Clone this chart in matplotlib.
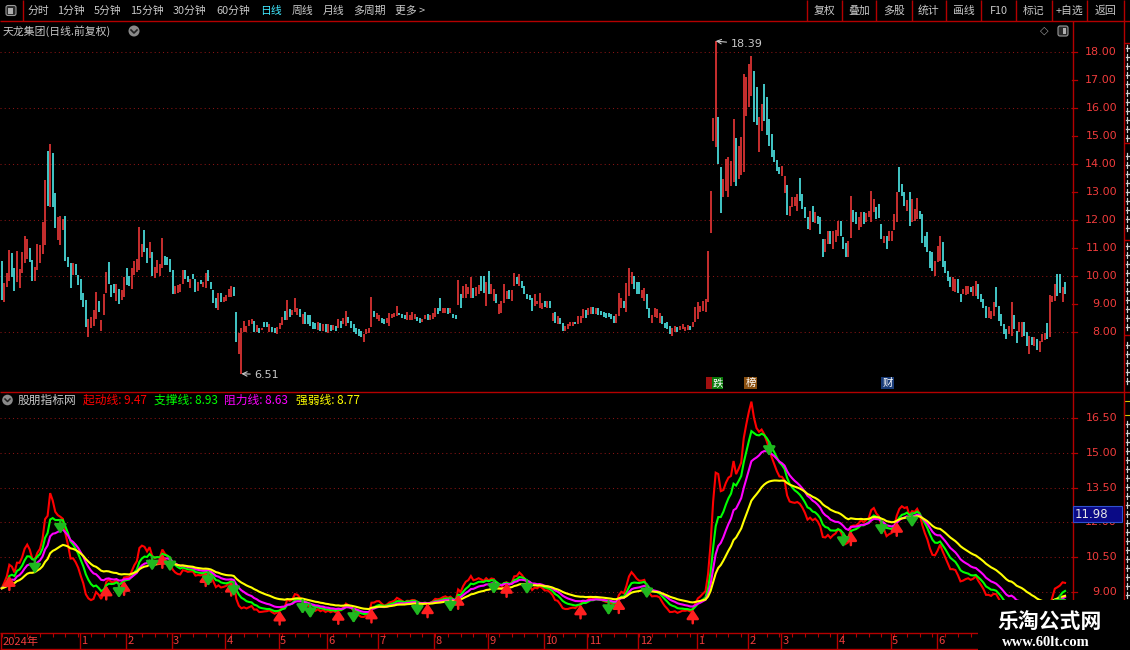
import numpy as np
import pandas as pd
import matplotlib
matplotlib.use("Agg")
import matplotlib.pyplot as plt
from matplotlib.patches import Rectangle, Circle, FancyBboxPatch

plt.rcParams['font.family'] = ['Noto Sans CJK SC', 'DejaVu Sans']

# ---------------- data ----------------
opens = [
    10.53, 9.08, 9.62, 9.83, 10.83, 10.29, 9.79, 9.58, 10.12, 10.45,
    10.59, 11.01, 10.57, 9.83, 10.21, 10.47, 10.78, 11.10, 14.46, 12.45,
    14.38, 12.95, 11.28, 11.09, 11.64, 12.14, 10.69, 10.47, 10.03, 10.42,
    10.02, 9.88, 9.38, 9.16, 7.83, 8.16, 8.22, 8.48, 9.12, 8.03,
    8.60, 9.38, 10.50, 9.67, 9.73, 9.10, 9.54, 9.14, 9.26, 10.29,
    10.01, 9.54, 10.03, 10.15, 10.21, 10.69, 11.64, 11.01, 10.63, 10.85,
    9.94, 10.12, 10.01, 10.27, 10.71, 10.69, 10.60, 10.21, 9.34, 9.39,
    9.44, 9.73, 10.21, 10.01, 9.58, 10.07, 9.91, 9.47, 9.85, 9.62,
    9.58, 10.21, 9.79, 9.50, 9.20, 8.80, 9.38, 9.06, 9.10, 9.26,
    9.26, 9.59, 8.72, 7.21, 6.51, 8.01, 8.01, 8.22, 8.28, 8.39,
    8.01, 8.16, 8.06, 8.34, 8.34, 8.01, 8.19, 8.15, 7.92, 8.10,
    8.25, 8.75, 8.42, 8.82, 8.60, 8.72, 8.60, 8.82,
    8.27, 8.73, 8.61, 8.61, 8.36, 8.33, 8.06, 8.33, 8.04, 8.30,
    7.98, 8.25, 8.06, 8.21, 8.13, 8.39, 8.27, 8.21, 8.54, 8.39,
    8.27, 8.15, 8.10, 8.04, 7.64, 7.92, 7.98, 8.18, 8.75, 8.45,
    8.39, 8.49, 8.45, 8.33, 8.21, 8.51, 8.54, 8.57, 8.69, 8.66,
    8.61, 8.44, 8.43, 8.44, 8.45, 8.54, 8.51, 8.36, 8.45, 8.66,
    8.43, 8.45, 8.54, 8.87, 9.23, 8.69, 8.69, 8.85, 8.69, 8.66,
    8.61, 8.97, 9.35, 9.23, 9.23, 9.35, 9.23, 9.57, 9.29, 9.35,
    10.01, 10.01, 8.93, 10.19, 9.35, 9.11, 9.35, 8.63, 8.67, 9.05,
    9.17, 9.50, 9.09, 9.65, 9.95, 9.65, 9.83, 9.65, 9.35, 9.33,
    9.21, 8.93, 8.99, 8.87, 8.81, 9.11, 8.87, 9.09, 8.39, 8.72,
    8.27, 8.51, 8.33, 8.04, 8.10, 8.21, 8.21, 8.36, 8.30, 8.33,
    8.51, 8.78, 8.61, 8.63, 8.90, 8.63, 8.85, 8.75, 8.73, 8.69,
    8.69, 8.63, 8.57, 8.33, 8.57, 8.87, 9.11, 8.72, 9.27, 9.71,
    10.01, 9.77, 9.80, 9.23, 9.11, 9.35, 8.87, 8.31, 8.54, 8.51,
    8.33, 8.57, 8.33, 8.36, 8.21, 7.86, 8.00, 8.18, 8.06, 8.10,
    8.04, 8.06,
    8.20, 8.17, 8.35, 8.46, 8.73, 8.76, 8.73, 9.06, 11.52, 14.83,
    14.62, 15.69, 13.90, 12.81, 13.05, 12.81, 13.23, 13.35, 14.93, 13.46,
    13.62, 13.70, 15.73, 16.05, 16.44, 17.31, 16.74, 14.42, 15.19, 16.86,
    16.38, 15.61, 15.07, 14.50, 14.14, 13.90, 13.56, 12.95, 13.26, 12.15,
    12.45, 12.51, 12.31, 13.49, 12.93, 12.45, 12.10, 11.64, 12.49, 11.88,
    12.15, 12.10, 11.32, 10.85, 11.14, 11.62, 10.96, 11.20, 11.44, 11.98,
    11.38, 11.17, 10.67, 11.35, 12.37, 12.27, 11.64, 11.74, 12.27, 11.92,
    12.10, 11.92, 12.27, 12.45, 12.57, 11.86, 11.17, 11.44, 11.24, 11.24,
    11.64, 11.92, 13.90, 13.29, 12.99, 12.33, 13.01, 11.92, 11.98, 12.04,
    12.33, 12.21, 11.42, 11.58, 10.90, 10.85, 10.01, 10.49, 10.55, 11.20,
    10.55, 10.17, 9.98, 9.48, 9.42, 9.89, 9.36, 9.36, 9.32, 9.36,
    9.60, 9.27, 9.27, 9.71, 9.36, 9.18, 8.94, 8.50, 8.46, 8.58,
    9.59, 8.94, 8.64, 8.29, 8.11, 7.93, 7.87, 8.62, 8.05, 7.99,
    7.83, 8.37, 7.99, 7.21, 7.83, 7.51, 7.75, 7.27, 7.63, 7.71,
    8.33, 7.81, 9.06, 9.10, 10.07, 10.07, 9.06, 9.77,
]
closes = [
    9.16, 9.76, 10.09, 10.92, 9.97, 9.46, 10.90, 10.25, 10.85, 11.42,
    11.31, 10.51, 9.83, 10.33, 11.15, 11.10, 11.92, 13.42, 12.50, 14.73,
    12.47, 11.73, 12.09, 12.14, 12.02, 10.54, 10.31, 9.56, 10.47, 10.03,
    9.69, 9.16, 8.90, 8.19, 8.46, 8.54, 8.78, 9.44, 8.72, 8.42,
    9.35, 10.13, 9.71, 9.26, 9.41, 9.70, 9.00, 9.50, 9.97, 9.67,
    9.65, 10.29, 10.53, 10.59, 11.75, 11.15, 10.87, 10.45, 11.21, 10.01,
    10.31, 10.58, 10.44, 11.35, 10.39, 10.39, 10.15, 9.35, 9.66, 9.67,
    9.73, 10.21, 9.89, 9.79, 9.91, 9.88, 9.44, 9.77, 9.70, 9.79,
    10.09, 9.83, 9.54, 9.04, 8.84, 9.40, 9.06, 9.26, 9.32, 9.53,
    9.65, 9.29, 7.65, 7.97, 8.13, 8.40, 8.22, 8.42, 8.48, 8.01,
    8.25, 7.97, 8.16, 8.19, 8.19, 8.27, 8.01, 7.97, 8.19, 8.31,
    8.52, 8.42, 9.14, 8.54, 8.80, 9.23, 8.84, 8.54,
    8.63, 8.27, 8.27, 8.21, 8.12, 8.10, 8.36, 8.04, 8.30, 8.01,
    8.27, 8.04, 8.25, 8.04, 8.45, 8.15, 8.51, 8.75, 8.33, 8.15,
    8.01, 7.94, 7.86, 7.82, 7.92, 8.10, 8.15, 9.26, 8.55, 8.69,
    8.61, 8.33, 8.30, 8.51, 8.69, 8.63, 8.69, 8.93, 8.60, 8.51,
    8.45, 8.73, 8.60, 8.72, 8.63, 8.39, 8.33, 8.48, 8.61, 8.42,
    8.60, 8.69, 8.87, 8.66, 8.75, 8.87, 8.87, 8.66, 8.87, 8.51,
    8.48, 9.87, 8.85, 9.65, 9.71, 9.62, 9.95, 9.23, 9.59, 9.68,
    9.47, 9.38, 9.77, 9.35, 9.71, 9.53, 9.05, 8.99, 9.11, 9.71,
    9.47, 9.17, 9.50, 10.10, 9.71, 10.07, 9.57, 9.35, 9.17, 9.14,
    8.75, 9.35, 9.11, 9.39, 9.05, 8.90, 9.09, 8.87, 8.69, 8.33,
    8.57, 8.27, 8.04, 8.21, 8.27, 8.36, 8.36, 8.27, 8.57, 8.57,
    8.81, 8.51, 8.85, 8.90, 8.66, 8.87, 8.61, 8.60, 8.54, 8.51,
    8.54, 8.45, 8.33, 8.63, 9.38, 9.23, 8.85, 9.75, 10.28, 10.13,
    9.53, 9.35, 9.35, 9.50, 9.57, 8.81, 8.51, 8.61, 8.84, 8.81,
    8.69, 8.27, 8.15, 8.10, 7.92, 8.15, 8.21, 8.00, 8.21, 8.27,
    8.18, 8.25,
    8.08, 8.37, 8.88, 9.06, 8.94, 9.12, 9.18, 10.88, 13.05, 15.64,
    16.00, 14.00, 12.24, 13.46, 14.18, 14.26, 14.12, 15.61, 13.23, 14.66,
    14.98, 17.21, 17.12, 17.57, 17.87, 15.49, 15.39, 15.67, 16.14, 15.52,
    15.05, 14.66, 14.24, 14.06, 13.76, 13.64, 13.94, 13.58, 12.19, 12.51,
    12.81, 12.81, 12.93, 12.69, 12.39, 12.07, 11.68, 12.33, 11.92, 12.27,
    11.86, 11.50, 10.69, 11.32, 11.62, 11.14, 11.62, 11.64, 11.98, 11.44,
    10.96, 10.67, 11.24, 12.85, 11.92, 11.86, 12.10, 12.30, 11.86, 12.25,
    12.31, 13.05, 12.75, 12.04, 12.06, 11.32, 11.44, 10.96, 11.62, 11.62,
    12.21, 13.01, 13.01, 12.87, 12.51, 12.71, 11.80, 12.75, 12.39, 12.79,
    12.04, 11.18, 11.02, 10.85, 10.29, 10.19, 10.55, 11.08, 11.44, 10.31,
    10.11, 9.83, 9.62, 9.98, 9.89, 9.39, 9.06, 9.54, 9.65, 9.65,
    9.42, 9.65, 9.83, 9.18, 9.06, 8.85, 8.50, 8.88, 8.76, 9.06,
    8.88, 8.41, 8.23, 7.93, 7.75, 8.23, 9.06, 8.11, 7.61, 8.35,
    8.37, 7.87, 7.51, 7.87, 7.55, 7.81, 7.36, 7.69, 7.93, 7.95,
    7.75, 9.32, 9.30, 9.71, 9.30, 9.39, 9.62, 9.36,
]
high_mark_idx, high_mark = 280, 18.39
low_mark_idx, low_mark = 94, 6.51

price_ticks = [18, 17, 16, 15, 14, 13, 12, 11, 10, 9, 8]
price_grid = [18, 16, 14, 12, 10, 8]
ind_ticks = [16.5, 15.0, 13.5, 12.0, 10.5, 9.0]

month_labels = ['2024年', '1', '2', '3', '4', '5', '6', '7', '8', '9', '10',
                '11', '12', '1', '2', '3', '4', '5', '6']
month_idx = [0, 31, 49, 67, 88, 109, 128, 148, 170, 191, 213,
             230, 250, 273, 293, 306, 328, 349, 367]

up_arrow_idx = [3, 41, 48, 63, 80, 90, 109, 132, 145, 167, 179, 198,
                227, 242, 271, 333, 351]
down_arrow_idx = [13, 23, 46, 59, 66, 81, 91, 118, 121, 138, 163, 176,
                  193, 206, 238, 253, 301, 330, 345, 357, 415]

line_names = ['起动线', '支撑线', '阻力线', '强弱线']
line_values = [9.47, 8.93, 8.63, 8.77]
line_spans = [4, 10, 18, 34]
line_colors = ['#ff0000', '#00ff00', '#ff00ff', '#ffff00']
cursor_value = 11.98

# ---------------- geometry / style ----------------
W, H = 1130, 650
BAR0, STEP = 1.7, 2.55
PLOT_R = 1072
FRAME = '#b40000'
AXC = '#f03c3c'
UPC = '#ff3c3c'
DNC = '#54fcfc'
GRID = '#8a1414'
TXT = '#c8c8c8'

def rect(x0, y0, x1, y1):
    return [x0 / W, 1 - y1 / H, (x1 - x0) / W, (y1 - y0) / H]

def bx(i):
    return BAR0 + i * STEP

fig = plt.figure(figsize=(W / 100, H / 100), dpi=100, facecolor='black')
xlim = (-BAR0 / STEP, (PLOT_R - BAR0) / STEP)

# ---------------- upper: candles ----------------
ax1 = fig.add_axes(rect(0, 21, PLOT_R, 391))
ax1.set_facecolor('black')
ax1.set_xlim(*xlim)
ax1.set_ylim(18 - (391 - 52) / 28, 18 + (52 - 21) / 28)
ax1.axis('off')

o = np.array(opens)
c = np.array(closes)
n = len(c)
idx = np.arange(n)
cols = [UPC if c[k] >= o[k] else DNC for k in range(n)]
for p in price_grid:
    ax1.axhline(p, color=GRID, lw=0.75, ls=(0, (1, 3)), zorder=1)
ax1.vlines(idx, np.minimum(o, c), np.maximum(o, c), colors=cols, lw=1.1, zorder=3)
ax1.vlines(high_mark_idx, max(o[high_mark_idx], c[high_mark_idx]), high_mark,
           colors=UPC, lw=1.1, zorder=3)

yt = ax1.get_yaxis_transform()
for p in price_ticks:
    ax1.text(1117 / PLOT_R, p, f'{p:.2f}', transform=yt, ha='right', va='center',
             color=AXC, fontsize=8, family='DejaVu Sans', clip_on=False)
    ax1.plot([1.0, 1077 / PLOT_R], [p, p], transform=yt, color=FRAME, lw=0.9,
             clip_on=False)

ax1.annotate(f'{high_mark:.2f}', xy=(high_mark_idx, high_mark), xytext=(15, -3),
             textcoords='offset pixels', ha='left', va='center', color=TXT,
             fontsize=8, family='DejaVu Sans',
             arrowprops=dict(arrowstyle='->', color=TXT, lw=0.8, shrinkA=1, shrinkB=0))
ax1.annotate(f'{low_mark:.2f}', xy=(low_mark_idx, low_mark), xytext=(13, -1),
             textcoords='offset pixels', ha='left', va='center', color=TXT,
             fontsize=8, family='DejaVu Sans',
             arrowprops=dict(arrowstyle='->', color=TXT, lw=0.8, shrinkA=1, shrinkB=0))

# ---------------- lower: indicator ----------------
ax2 = fig.add_axes(rect(0, 392, PLOT_R, 633))
ax2.set_facecolor('black')
ax2.set_xlim(*xlim)
ax2.set_ylim(9 - (633 - 592) / 23.2, 9 + (592 - 392) / 23.2)
ax2.axis('off')
for v in ind_ticks:
    ax2.axhline(v, color=GRID, lw=0.75, ls=(0, (1, 3)), zorder=1)

cs = pd.Series(closes)
lines = [cs.ewm(span=s, adjust=False).mean().values for s in line_spans]
for ln, col in zip(lines, line_colors):
    ax2.plot(idx, ln, color=col, lw=1.5, zorder=3, solid_joinstyle='miter')

yt2 = ax2.get_yaxis_transform()
for v in ind_ticks:
    ax2.text(1117 / PLOT_R, v, f'{v:.2f}', transform=yt2, ha='right',
             va='center', color=AXC, fontsize=8, family='DejaVu Sans',
             clip_on=False)
    ax2.plot([1.0, 1077 / PLOT_R], [v, v], transform=yt2, color=FRAME, lw=0.9,
             clip_on=False)

green = lines[1]
for k in up_arrow_idx:
    px, py = ax2.transData.transform((k, green[k]))
    ax2.annotate('', xy=(px, py), xytext=(px, py - 14), xycoords='figure pixels',
                 textcoords='figure pixels',
                 arrowprops=dict(arrowstyle='-|>,head_width=0.3,head_length=0.45',
                                 color='#ff2020', lw=1.8, mutation_scale=12,
                                 shrinkA=0, shrinkB=0), zorder=5)
for k in down_arrow_idx:
    px, py = ax2.transData.transform((k, green[k]))
    ax2.annotate('', xy=(px, py - 14), xytext=(px, py), xycoords='figure pixels',
                 textcoords='figure pixels',
                 arrowprops=dict(arrowstyle='-|>,head_width=0.3,head_length=0.45',
                                 color='#20b820', lw=1.8, mutation_scale=12,
                                 shrinkA=0, shrinkB=0), zorder=5)

# ---------------- overlay: frame, toolbar, texts ----------------
ov = fig.add_axes([0, 0, 1, 1], zorder=10)
ov.set_xlim(0, W)
ov.set_ylim(H, 0)
ov.axis('off')
ov.patch.set_alpha(0)

def hl(y, x0, x1, col=FRAME, lw=1.0):
    ov.plot([x0, x1], [y, y], color=col, lw=lw, solid_capstyle='butt')

def vl(x, y0, y1, col=FRAME, lw=1.0):
    ov.plot([x, x], [y0, y1], color=col, lw=lw, solid_capstyle='butt')

# toolbar
hl(20.5, 0, W)
vl(23, 0, 20.5)
ov.add_patch(FancyBboxPatch((6, 5.5), 10, 10, boxstyle='round,pad=0,rounding_size=2',
                            fc='#2a2a2a', ec='#9a9a9a', lw=0.8))
ov.add_patch(Rectangle((8, 7.5), 4.5, 6, fc='#b0b0b0', ec='none'))
tool_left = [('分时', 27), ('1分钟', 57), ('5分钟', 94), ('15分钟', 130),
             ('30分钟', 173), ('60分钟', 216), ('日线', 260), ('周线', 292),
             ('月线', 323), ('多周期', 353), ('更多 >', 395)]
for t, x in tool_left:
    ov.text(x, 11, t, color='#40e8ff' if t == '日线' else TXT, fontsize=7.8,
            ha='left', va='center')
seps = [807, 842, 876, 912, 946, 981, 1016, 1052, 1087, 1124]
for x in seps:
    vl(x, 0, 20.5)
tool_right = ['复权', '叠加', '多股', '统计', '画线', 'F10', '标记', '+自选', '返回']
for k, t in enumerate(tool_right):
    ov.text((seps[k] + seps[k + 1]) / 2, 11, t, color=TXT, fontsize=7.8,
            ha='center', va='center')

# title row
ov.text(3, 31, '天龙集团(日线.前复权)', color=TXT, fontsize=7.8, ha='left', va='center')
ov.add_patch(Circle((134, 31), 5.5, fc='#8a8a8a', ec='none'))
ov.plot([131, 134, 137], [30, 33, 30], color='#202020', lw=1.2)
ov.text(1044, 31, '◇', color='#9a9a9a', fontsize=8, ha='center', va='center',
        family='DejaVu Sans')
ov.add_patch(FancyBboxPatch((1058, 26), 10, 10, boxstyle='round,pad=0,rounding_size=2',
                            fc='#2a2a2a', ec='#9a9a9a', lw=0.8))
ov.add_patch(Rectangle((1063, 28), 3, 6, fc='#b0b0b0', ec='none'))

# frame lines
vl(PLOT_R + 0.5, 20.5, 649)
vl(1123.5, 20.5, 633)
hl(391.5, 0, W)
hl(633, 0, W)
hl(649, 0, W)
for y in [43, 143, 240, 335]:
    hl(y, 1123.5, W)

# right column (cut-off side panel): partial glyph strokes drawn as short marks
for y in range(48, 388, 9):
    if all(abs(y - s) > 4 for s in [43, 143, 240, 335]):
        ov.plot([1125.5, 1130], [y, y], color='#cfcfcf', lw=0.9)
        ov.plot([1126.5, 1126.5], [y - 3, y + 3], color='#cfcfcf', lw=0.9)
ov.add_patch(Rectangle((1124, 401), 8, 14, fc='none', ec='#d8c800', lw=0.8))
for y in range(424, 600, 9):
    ov.plot([1125.5, 1130], [y, y], color='#cfcfcf', lw=0.9)
    ov.plot([1126.5, 1126.5], [y - 3, y + 3], color='#cfcfcf', lw=0.9)

# indicator legend
ov.add_patch(Circle((7.5, 400), 5.3, fc='#8a8a8a', ec='none'))
ov.plot([5, 7.5, 10], [399, 401.5, 399], color='#202020', lw=1.1)
ov.text(18, 400, '股朋指标网', color=TXT, fontsize=8.5, ha='left', va='center')
leg_x = [83, 154, 224, 296]
for x, name, val, col in zip(leg_x, line_names, line_values, line_colors):
    ov.text(x, 400, f'{name}: {val:.2f}', color=col, fontsize=8.5, ha='left',
            va='center')

# markers
ov.add_patch(Rectangle((706, 377), 6, 12, fc='#a01010', ec='none'))
for (x0, x1, fc, t) in [(712, 723, '#0a7a0a', '跌'), (744, 757, '#8a5010', '榜'),
                        (881, 894, '#1a3c78', '财')]:
    ov.add_patch(Rectangle((x0, 377), x1 - x0, 12, fc=fc, ec='none'))
    ov.text((x0 + x1) / 2, 383, t, color='white', fontsize=7.5, ha='center',
            va='center')

# cursor value box (partly covers the 12.00 label, as in the reference)
ov.add_patch(Rectangle((1073, 506), 49, 16, fc='#0a0a86', ec='#3050d0', lw=0.8,
                       zorder=5))
ov.text(1075, 514.5, f'{cursor_value:.2f}', color='#e6e6e6', fontsize=8.5,
        ha='left', va='center', family='DejaVu Sans', zorder=6)

# date axis
for lab, i in zip(month_labels, month_idx):
    x = bx(i) - 1
    vl(max(x, 0.5), 633, 649)
    ov.text(x + 1.5, 641.5, lab, color=AXC, fontsize=8, ha='left', va='center')
for i in range(0, n, 5):
    vl(bx(i), 633, 636.5, lw=0.8)
for x in [73, 115, 145, 177, 207, 242, 282, 309, 332, 377, 420, 455, 490, 527,
          568, 602, 640, 690, 735, 780, 830, 880, 930]:
    vl(x, 649, 650)

# watermark
ov.add_patch(Rectangle((978, 600), W - 978, 50, fc='black', ec='none', zorder=20))
ov.text(1050, 621, '乐淘公式网', color='white', fontsize=15, fontweight='bold',
        ha='center', va='center', zorder=21)
ov.text(1046, 642, 'www.60lt.com', color='white', fontsize=10.5, fontweight='bold',
        family='Liberation Serif', ha='center', va='center', zorder=21)

fig.savefig('out.png', dpi=100, facecolor='black')
